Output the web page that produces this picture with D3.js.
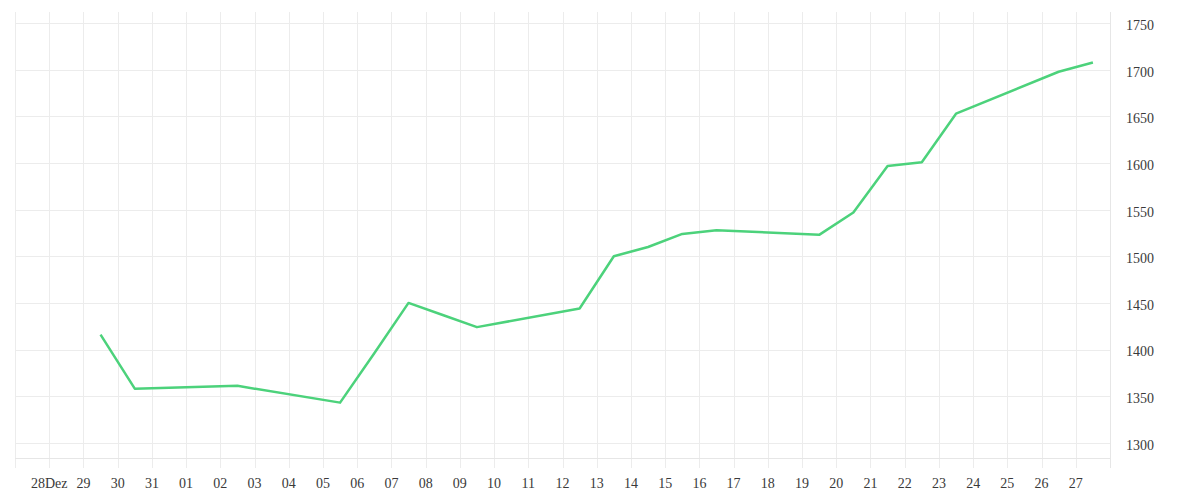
<!DOCTYPE html>
<html>
  <head>
    <meta charset="UTF-8" />
    <title>Line chart</title>
    <script src="https://d3js.org/d3.v7.min.js"></script>
    <style>
      body { margin: 0; background: #fff; }
      svg text { font-family: "Liberation Serif", serif; font-size: 14px; fill: #3a3a3a; }
      .grid line { stroke: #ececec; stroke-width: 1; }
      .axis-line { stroke: #e6e6e6; stroke-width: 1; }
    </style>
  </head>
  <body>
    <svg id="chart" width="1200" height="500"></svg>
    <script>
      // data points (one per trading day)
      const dates = [
        "2023-12-29", "2023-12-30", "2024-01-02", "2024-01-05", "2024-01-06",
        "2024-01-07", "2024-01-08", "2024-01-09", "2024-01-12", "2024-01-13",
        "2024-01-14", "2024-01-15", "2024-01-16", "2024-01-19", "2024-01-20",
        "2024-01-21", "2024-01-22", "2024-01-23", "2024-01-26", "2024-01-27",
      ];
      const values = [
        1416, 1358, 1361, 1343, 1396,
        1450, 1437, 1424, 1444, 1500,
        1510, 1524, 1528, 1523, 1547,
        1597, 1601, 1653, 1698, 1708,
      ];
      const yTicks = [1300, 1350, 1400, 1450, 1500, 1550, 1600, 1650, 1700, 1750];

      const parse = d3.timeParse("%Y-%m-%d");
      const data = dates.map((d, i) => ({ date: parse(d), value: values[i] }));

      const plotLeft = 15, plotRight = 1110, plotTop = 12, plotBottom = 458;
      const svg = d3.select("#chart");

      const x = d3
        .scaleTime()
        .domain([parse("2023-12-27"), parse("2024-01-28")])
        .range([plotLeft, plotRight]);
      const y = d3.scaleLinear().domain([1283.6, 1762.1]).range([plotBottom, plotTop]);

      const dayTicks = d3.timeDay.range(parse("2023-12-27"), parse("2024-01-29"));
      const labelTicks = d3.timeDay.range(parse("2023-12-28"), parse("2024-01-28"));

      // vertical grid
      svg
        .append("g")
        .attr("class", "grid")
        .selectAll("line")
        .data(dayTicks)
        .join("line")
        .attr("x1", (d) => Math.round(x(d)) + 0.5)
        .attr("x2", (d) => Math.round(x(d)) + 0.5)
        .attr("y1", plotTop)
        .attr("y2", 468);

      // horizontal grid
      svg
        .append("g")
        .attr("class", "grid")
        .selectAll("line")
        .data(yTicks)
        .join("line")
        .attr("x1", plotLeft)
        .attr("x2", plotRight)
        .attr("y1", (d) => Math.round(y(d)) + 0.5)
        .attr("y2", (d) => Math.round(y(d)) + 0.5);

      svg
        .append("line")
        .attr("class", "axis-line")
        .attr("x1", plotLeft)
        .attr("x2", plotRight)
        .attr("y1", plotBottom + 0.5)
        .attr("y2", plotBottom + 0.5);

      // x labels
      const fmt = (d) =>
        d.getMonth() === 11 && d.getDate() === 28 ? "28Dez" : d3.timeFormat("%d")(d);
      svg
        .append("g")
        .selectAll("text")
        .data(labelTicks)
        .join("text")
        .attr("x", (d) => x(d))
        .attr("y", 488)
        .attr("text-anchor", "middle")
        .text(fmt);

      // y axis on the right
      const yAxis = d3
        .axisRight(y)
        .tickValues(yTicks)
        .tickFormat(d3.format("d"))
        .tickSize(0)
        .tickPadding(16);
      const ya = svg
        .append("g")
        .attr("transform", `translate(${plotRight},0)`)
        .call(yAxis);
      ya.select(".domain").remove();
      ya.selectAll("text")
        .attr("dy", "0.45em")
        .style("font-size", "14px")
        .style("font-family", "'Liberation Serif', serif")
        .attr("fill", "#3a3a3a");
      svg
        .append("line")
        .attr("class", "axis-line")
        .attr("x1", plotRight + 0.5)
        .attr("x2", plotRight + 0.5)
        .attr("y1", plotTop)
        .attr("y2", 468);

      // series line, points sit at noon of each day
      const line = d3
        .line()
        .x((d) => x(d3.timeHour.offset(d.date, 12)))
        .y((d) => y(d.value));

      svg
        .append("path")
        .datum(data)
        .attr("fill", "none")
        .attr("stroke", "#4cd27b")
        .attr("stroke-width", 2.5)
        .attr("stroke-linejoin", "round")
        .attr("d", line);
    </script>
  </body>
</html>
